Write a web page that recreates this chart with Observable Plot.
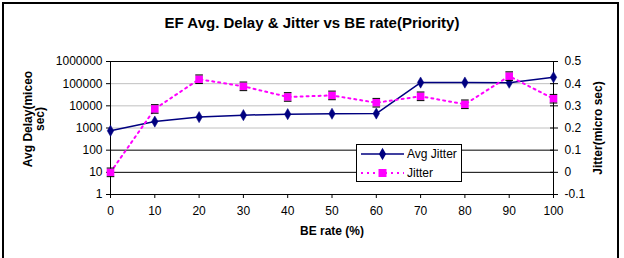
<!DOCTYPE html>
<html>
<head>
<meta charset="utf-8">
<script src="https://cdn.jsdelivr.net/npm/d3@7"></script>
<script src="https://cdn.jsdelivr.net/npm/@observablehq/plot@0.6"></script>
<style>
  html, body { margin: 0; padding: 0; background: #fff; }
  #page { position: relative; width: 624px; height: 258px; overflow: hidden; font-family: "Liberation Sans", Arial, sans-serif; }
  #frame { position: absolute; left: 2px; top: 2px; width: 617px; height: 270px; border: 2px solid #000; box-sizing: border-box; }
  #title { position: absolute; left: 0; top: 0; width: 624px; height: 45px; text-align: center; font-weight: bold; font-size: 15px; line-height: 15px; padding-top: 15px; box-sizing: border-box; }
  #chart { position: absolute; left: 0; top: 45px; }
  #legend { position: absolute; left: 356px; top: 144px; width: 106px; height: 38px; border: 1px solid #000; background: #fff; box-sizing: border-box; }
  #legend svg { display: block; }
</style>
</head>
<body>
<div id="page">
  <div id="frame"></div>
  <div id="title">EF Avg. Delay &amp; Jitter vs BE rate(Priority)</div>
  <div id="chart"></div>
  <div id="legend"></div>
</div>
<script>
// BE traffic rate (%) on the x axis
const beRate = [0, 10, 20, 30, 40, 50, 60, 70, 80, 90, 100];
// Average delay (left, log axis)
const avgJitter = [750, 1950, 3100, 3800, 4200, 4400, 4500, 112000, 112000, 110000, 195000];
// Jitter (right, linear axis)
const jitter = [0.0, 0.286, 0.42, 0.388, 0.34, 0.347, 0.314, 0.343, 0.307, 0.434, 0.332];

const xTicks = [0, 10, 20, 30, 40, 50, 60, 70, 80, 90, 100];
const leftTicks = [1, 10, 100, 1000, 10000, 100000, 1000000];
const rightTicks = [-0.1, 0, 0.1, 0.2, 0.3, 0.4, 0.5];
const rightTickLabels = ["-0.1", "0", "0.1", "0.2", "0.3", "0.4", "0.5"];
const lightGrid = [100000, 10000, 1000];
const darkGrid = [1000000, 100, 10];

const seriesNames = ["Avg Jitter", "Jitter"];
const navy = "#000080";
const magenta = "#ff00ff";

// The right axis (-0.1 … 0.5) spans the same height as the six decades of the left axis.
const rightToLeft = (v) => Math.pow(10, (v - rightTicks[0]) * 10);

const delayRows = beRate.map((x, i) => ({x, y: avgJitter[i]}));
const jitterRows = beRate.map((x, i) => ({x, y: rightToLeft(jitter[i])}));
const rightRows = rightTicks.map((v, i) => ({y: rightToLeft(v), label: rightTickLabels[i]}));

// Black horizontal caps drawn above and below each jitter square
const capSymbol = {
  draw(ctx, size) {
    const h = Math.sqrt(size) / 2;
    ctx.moveTo(-h, -h - 0.5); ctx.lineTo(h, -h - 0.5);
    ctx.moveTo(-h, h + 0.5); ctx.lineTo(h, h + 0.5);
  }
};

const chart = Plot.plot({
  width: 624,
  height: 213,
  marginLeft: 110,
  marginRight: 71,
  marginTop: 16,
  marginBottom: 64,
  style: {fontFamily: "'Liberation Sans', Arial, sans-serif", fontSize: "12px", color: "#000", background: "transparent"},
  x: {domain: [0, 100]},
  y: {type: "log", domain: [1, 1000000]},
  marks: [
    Plot.ruleY(lightGrid, {stroke: "#c0c0c0", strokeWidth: 1}),
    Plot.ruleY(darkGrid, {stroke: "#000", strokeWidth: 1}),
    Plot.ruleY([1], {stroke: "#000", strokeWidth: 1}),
    Plot.ruleX([0, 100], {stroke: "#000", strokeWidth: 1}),
    Plot.axisX(xTicks, {tickSize: 4, tickPadding: 8, tickFormat: d3.format("d"), label: null, fontSize: 12}),
    Plot.axisY(leftTicks, {anchor: "left", tickSize: 4, tickPadding: 4, tickFormat: d3.format("d"), label: null, fontSize: 12}),
    // Right axis: ticks crossing the axis line, labels on the outside
    Plot.axisY(rightRows.map((d) => d.y), {anchor: "right", tickSize: 4, tickFormat: () => "", label: null}),
    Plot.axisY(rightRows.map((d) => d.y), {anchor: "right", tickSize: -4, tickFormat: () => "", label: null}),
    Plot.text(rightRows, {x: () => 100, y: "y", text: "label", dx: 11, textAnchor: "start", fontSize: 12}),
    Plot.text(["BE rate (%)"], {frameAnchor: "bottom", dy: 40, fontWeight: "bold", fontSize: 12}),
    Plot.text(["Avg Delay(miceo\nsec)"], {frameAnchor: "left", textAnchor: "middle", dx: -76, dy: -9, rotate: -90, fontWeight: "bold", fontSize: 12, lineHeight: 1.0}),
    Plot.text(["Jitter(micro sec)"], {frameAnchor: "right", textAnchor: "middle", dx: 45, rotate: -90, fontWeight: "bold", fontSize: 12}),
    // Average delay series
    Plot.line(delayRows, {x: "x", y: "y", stroke: navy, strokeWidth: 1.5}),
    Plot.dot(delayRows, {x: "x", y: "y", symbol: "diamond", r: 3.4, fill: navy, stroke: navy, strokeWidth: 0.5}),
    // Jitter series
    Plot.line(jitterRows, {x: "x", y: "y", stroke: magenta, strokeWidth: 2, strokeDasharray: "2,4"}),
    Plot.dot(jitterRows, {x: "x", y: "y", symbol: "square", r: 4.3, fill: magenta, stroke: "none"}),
    Plot.dot(jitterRows, {x: "x", y: "y", symbol: capSymbol, r: 4.3, fill: "none", stroke: "#000", strokeWidth: 1})
  ]
});
document.getElementById("chart").appendChild(chart);

// Legend: line sample, marker and series name for each series
const legendData = [
  {name: seriesNames[0], color: navy, dash: null, symbol: d3.symbolDiamond, size: 44},
  {name: seriesNames[1], color: magenta, dash: "2,4", symbol: d3.symbolSquare, size: 64}
];
const lg = d3.select("#legend").append("svg").attr("width", 104).attr("height", 36);
legendData.forEach((d, i) => {
  const y = 9 + i * 19;
  lg.append("line").attr("x1", 4).attr("x2", 47).attr("y1", y).attr("y2", y)
    .attr("stroke", d.color).attr("stroke-width", d.dash ? 2 : 1.5)
    .attr("stroke-dasharray", d.dash);
  lg.append("path").attr("d", d3.symbol(d.symbol, d.size)()).attr("transform", `translate(25.5,${y})`)
    .attr("fill", d.color);
  lg.append("text").attr("x", 50).attr("y", y).attr("dy", "0.35em")
    .attr("font-size", 12).attr("font-family", "'Liberation Sans', Arial, sans-serif").text(d.name);
});
</script>
</body>
</html>
